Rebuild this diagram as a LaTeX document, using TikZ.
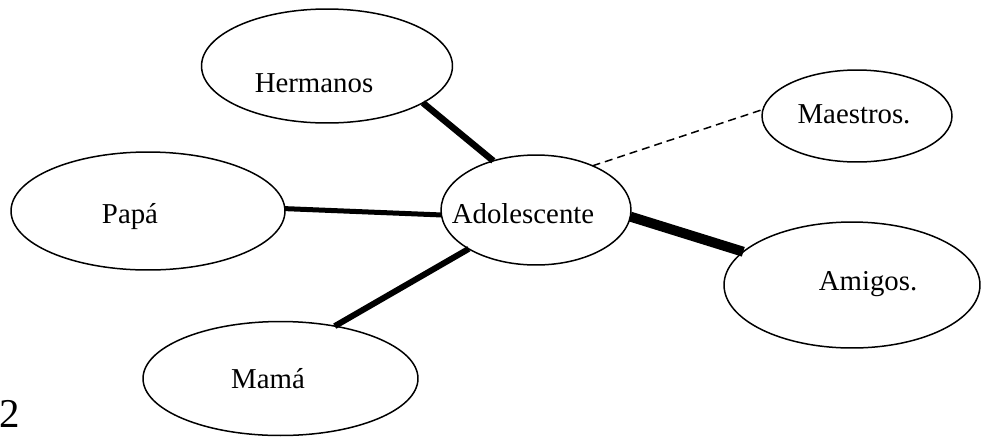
\documentclass[tikz,border=0pt]{standalone}
\usepackage{fontspec}
\setmainfont{Liberation Serif}
\usetikzlibrary{shapes.geometric}

\begin{document}
\begin{tikzpicture}[x=0.02cm,y=-0.02cm,
    blob/.style={ellipse,draw,line width=0.03cm,inner sep=0pt,outer sep=0pt},
    lbl/.style={anchor=base,inner sep=0pt},
    tie/.style={line cap=butt}]
      \fontsize{16.4}{19}\selectfont
      \useasboundingbox (0,0) rectangle (983,437);

      % the ovals
      \node[blob,minimum width=5.02cm,minimum height=2.28cm] (herm) at (327,66) {};
      \node[blob,minimum width=3.8cm,minimum height=2.2cm] (ado) at (536,210) {};
      \node[blob,minimum width=5.48cm,minimum height=2.36cm] (papa) at (148,211) {};
      \node[blob,minimum width=3.8cm,minimum height=1.84cm] (maes) at (857,116) {};
      \node[blob,minimum width=5.12cm,minimum height=2.52cm] (amig) at (852,285) {};
      \node[blob,minimum width=5.5cm,minimum height=2.28cm] (mama) at (280.5,378.5) {};

      % their texts
      \node[lbl] (hermT) at (314,92) {Hermanos};
      \node[lbl] (adoT) at (523,223) {Adolescente};
      \node[lbl] (papaT) at (130,223) {Papá};
      \node[lbl] (maesT) at (854,123) {Maestros.};
      \node[lbl] (amigT) at (868,290) {Amigos.};
      \node[lbl] (mamaT) at (268,388) {Mamá};
      \node[lbl,font=\fontsize{23.3}{26}\selectfont] (num) at (10,427) {2};

      % ties
      \draw[tie,line width=0.13cm] (herm.-21.8) -- (ado.131);
      \draw[tie,line width=0.1cm] (papa.1.3) -- (ado.183.7);
      \draw[tie,line width=0.12cm] (mama.44.5) -- (ado.210);
      \draw[tie,line width=0.2cm] (ado.-4.8) -- (amig.163.8);
      \draw[line width=0.03cm,dash pattern=on 0.16cm off 0.1cm] (ado.38.3) -- (maes.176.3);

    \end{tikzpicture}
\end{document}
